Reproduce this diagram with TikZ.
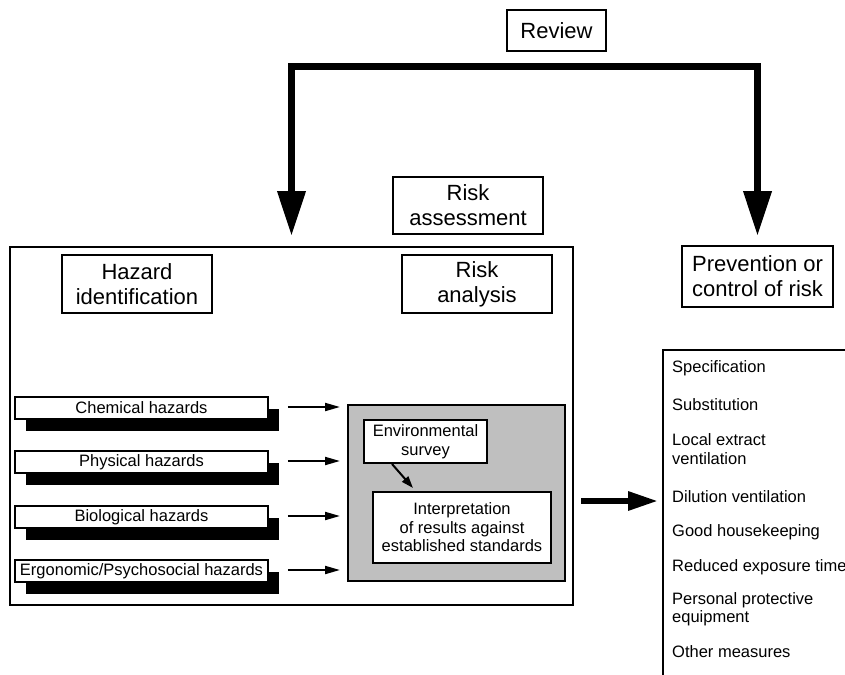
\documentclass[tikz,border=0pt]{standalone}
\usepackage{fontspec}
\setmainfont{Liberation Sans}
\usetikzlibrary{arrows.meta,shadows,calc}
\begin{document}
\begin{tikzpicture}[x=1pt,y=-1pt,
  bigbox/.style={draw, line width=2pt, align=center, inner sep=0pt, fill=white,
    font=\fontsize{22}{25}\selectfont},
  smallbox/.style={draw, line width=2pt, align=center, inner sep=0pt, fill=white,
    font=\fontsize{16.5}{18.5}\selectfont},
  hazbox/.style={draw, line width=1.6pt, align=center, inner sep=0pt, fill=white,
    minimum width=253pt, minimum height=22pt, font=\fontsize{16.5}{18.5}\selectfont,
    drop shadow={shadow xshift=11pt, shadow yshift=-12pt, fill=black, opacity=1}},
  frame/.style={draw, line width=2pt, inner sep=0pt},
  listitem/.style={anchor=west, align=left, inner sep=0pt, font=\fontsize{16.5}{18.5}\selectfont},
  harrow/.style={line width=2pt, -{Triangle[length=15pt,width=8pt]}},
  bigarrow/.style={line width=6pt, -{Triangle[length=30pt,width=18pt]}},
  bracket/.style={line width=7pt, line join=miter,
    {Triangle[length=45pt,width=27pt]}-{Triangle[length=45pt,width=27pt]}}
]
\useasboundingbox (0,0) rectangle (845,674);
\clip (0,0) rectangle (845,674);

% top boxes
\node[bigbox, minimum width=99pt, minimum height=41pt] (review) at (556.5,30.5) {Review};
\node[bigbox, minimum width=150pt, minimum height=57pt] (assess) at (468,205.5) {Risk\\assessment};

% main frame
\node[frame, minimum width=563pt, minimum height=358pt] (main) at (291.5,426) {};
\node[bigbox, minimum width=150pt, minimum height=58pt] (hazid) at (137,284) {Hazard\\identification};
\node[bigbox, minimum width=150pt, minimum height=58pt] (ranal) at (477,284) {Risk\\analysis};

% prevention
\node[bigbox, minimum width=151pt, minimum height=61pt] (prev) at (757.5,276.5) {Prevention or\\control of risk};

% gray analysis box
\node[frame, fill=black!25, minimum width=217pt, minimum height=176pt] (gray) at (456.5,493) {};
\node[smallbox, minimum width=123pt, minimum height=43pt] (envs) at (425.5,441.5) {Environmental\\survey};
\node[smallbox, minimum width=178pt, minimum height=71pt] (interp) at (462,527.5) {Interpretation\\of results against\\established standards};

% hazards
\node[hazbox] (chem) at (141.5,408) {Chemical hazards};
\node[hazbox] (phys) at (141.5,462) {Physical hazards};
\node[hazbox] (bio) at (141.5,517) {Biological hazards};
\node[hazbox] (ergo) at (141.5,571) {Ergonomic/Psychosocial hazards};

\foreach \h in {chem,phys,bio,ergo}
  \draw[harrow, shorten >=7pt] ([xshift=19pt,yshift=1pt]\h.east) -- ([yshift=1pt]gray.west |- \h.east);

\draw[line width=2pt, -{Triangle[length=12pt,width=8pt]}]
  ([xshift=-33.5pt]envs.south) -- ([xshift=-49pt,yshift=3pt]interp.north);

% list box
\node[frame, minimum width=300pt, minimum height=400pt, anchor=north west] (list) at (662,349) {};
\node[listitem] (l1) at (672,368) {Specification};
\node[listitem] (l2) at (672,405) {Substitution};
\node[listitem] (l3) at (672,449) {Local extract\\ventilation};
\node[listitem] (l4) at (672,497) {Dilution ventilation};
\node[listitem] (l5) at (672,532) {Good housekeeping};
\node[listitem] (l6) at (672,567) {Reduced exposure time};
\node[listitem] (l7) at (672,609) {Personal protective\\equipment};
\node[listitem] (l8) at (672,652) {Other measures};

% big arrow to the list
\draw[bigarrow, shorten >=4pt] ([xshift=7pt,yshift=-4pt]main.east |- l4.west) -- ([yshift=-4pt]list.west |- l4.west);

% review bracket
\draw[bracket] ([yshift=10pt]main.north) |- ([yshift=-14.5pt]review.south) -| ([yshift=9pt]prev.north);
\end{tikzpicture}
\end{document}
